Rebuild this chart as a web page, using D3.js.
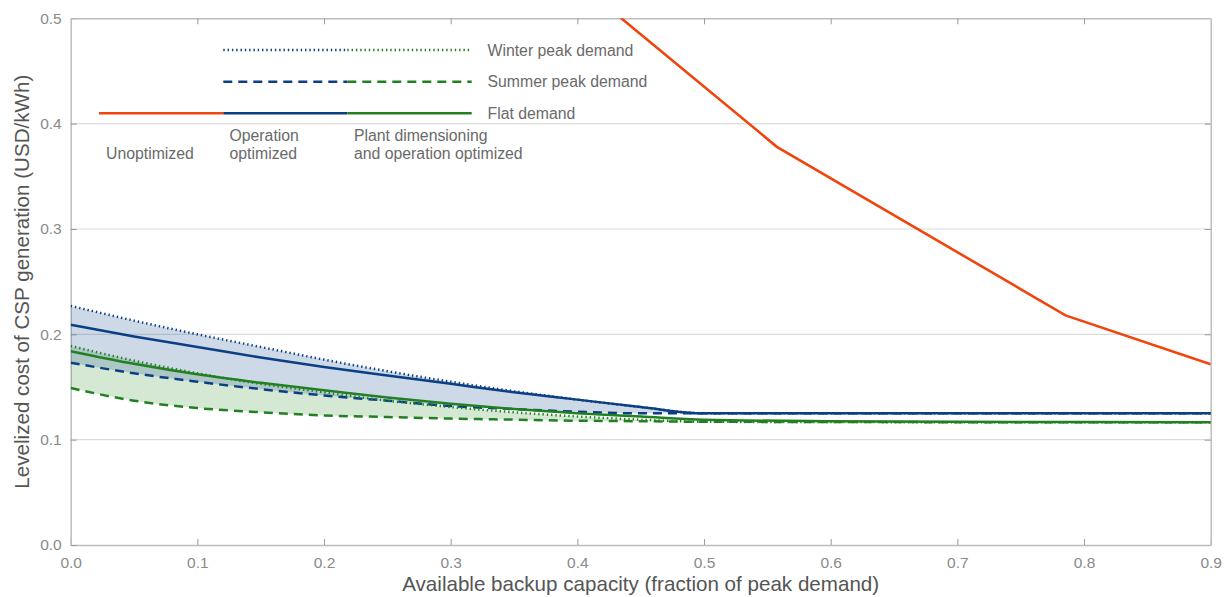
<!DOCTYPE html>
<html>
<head>
<meta charset="utf-8">
<script src="https://cdn.jsdelivr.net/npm/d3@7"></script>
<style>
  html, body { margin: 0; padding: 0; background: #fff; }
  svg { display: block; font-family: "Liberation Sans", Arial, Helvetica, sans-serif; }
</style>
</head>
<body>
<svg id="chart" width="1231" height="597"></svg>
<script>
// ---- data ----
const xValues = [0, 0.05, 0.1, 0.15, 0.2, 0.25, 0.3, 0.35, 0.4, 0.45, 0.5, 0.6, 0.7, 0.8, 0.9];
const blueWinter  = [0.227, 0.213, 0.200, 0.188, 0.176, 0.165, 0.155, 0.146, 0.138, 0.131, 0.125, 0.125, 0.125, 0.125, 0.125];
const blueFlat    = [0.209, 0.198, 0.188, 0.178, 0.169, 0.161, 0.153, 0.145, 0.138, 0.131, 0.125, 0.125, 0.125, 0.125, 0.125];
const blueSummer  = [0.173, 0.163, 0.155, 0.148, 0.142, 0.137, 0.132, 0.129, 0.1265, 0.125, 0.125, 0.125, 0.125, 0.125, 0.125];
const greenWinter = [0.189, 0.175, 0.163, 0.153, 0.145, 0.137, 0.131, 0.126, 0.122, 0.119, 0.117, 0.1167, 0.1166, 0.1165, 0.1165];
const greenFlat   = [0.184, 0.172, 0.162, 0.154, 0.147, 0.140, 0.134, 0.129, 0.125, 0.122, 0.119, 0.1175, 0.117, 0.1167, 0.1166];
const greenSummer = [0.149, 0.137, 0.130, 0.126, 0.123, 0.1215, 0.120, 0.119, 0.118, 0.1175, 0.117, 0.1168, 0.1166, 0.1165, 0.1165];
const unoptX = [0.33, 0.5575, 0.7854, 0.9];
const unoptY = [0.604, 0.378, 0.218, 0.1715];
const xTicks = [0, 0.1, 0.2, 0.3, 0.4, 0.5, 0.6, 0.7, 0.8, 0.9];
const yTicks = [0, 0.1, 0.2, 0.3, 0.4, 0.5];
const legendRows = ["Winter peak demand", "Summer peak demand", "Flat demand"];
const legendGroups = [["Unoptimized"], ["Operation", "optimized"], ["Plant dimensioning", "and operation optimized"]];

// ---- layout ----
const W = 1231, H = 597;
const m = { left: 70.7, right: 20.3, top: 18.3, bottom: 52 };
const iw = W - m.left - m.right, ih = H - m.top - m.bottom;
const BLUE = "#0b3f84", GREEN = "#228022", ORANGE = "#f0450c";
const DOT = "1.4,2.9", DASH = "9,6";

const svg = d3.select("#chart");
const g = svg.append("g").attr("transform", `translate(${m.left},${m.top})`);
const x = d3.scaleLinear().domain([0, 0.9]).range([0, iw]);
const y = d3.scaleLinear().domain([0, 0.5]).range([ih, 0]);

svg.append("defs").append("clipPath").attr("id", "clip")
  .append("rect").attr("width", iw).attr("height", ih);

// grid
g.append("g").selectAll("line").data(yTicks.slice(1, -1)).join("line")
  .attr("x1", 0).attr("x2", iw).attr("y1", d => y(d)).attr("y2", d => y(d))
  .attr("stroke", "#dcdcdc").attr("stroke-width", 1.2);

// axes
const fmt = d3.format(".1f");
const xa = g.append("g").attr("transform", `translate(0,${ih})`)
  .call(d3.axisBottom(x).tickValues(xTicks).tickFormat(fmt).tickSizeInner(-6).tickSizeOuter(0).tickPadding(12));
const ya = g.append("g")
  .call(d3.axisLeft(y).tickValues(yTicks).tickFormat(fmt).tickSizeInner(-6).tickSizeOuter(0).tickPadding(9));
const xt = g.append("g")
  .call(d3.axisTop(x).tickValues(xTicks.slice(1, -1)).tickFormat("").tickSizeInner(-6).tickSizeOuter(0));
const yr = g.append("g").attr("transform", `translate(${iw},0)`)
  .call(d3.axisRight(y).tickValues(yTicks.slice(1, -1)).tickFormat("").tickSizeInner(-6).tickSizeOuter(0));
[xa, ya, xt, yr].forEach(a => {
  a.select(".domain").attr("stroke", "#bdbdbd").attr("stroke-width", 1.5);
  a.selectAll(".tick line").attr("stroke", "#9a9a9a").attr("stroke-width", 1);
  a.selectAll(".tick text").attr("fill", "#8a8a8a").attr("font-size", 15.5);
});
xa.selectAll(".tick text").attr("dy", "0.71em");

// series
const pts = arr => arr.map((v, i) => [xValues[i], v]);
const line = d3.line().x(d => x(d[0])).y(d => y(d[1])).curve(d3.curveMonotoneX);
const area = (top, bot) => d3.area().x((d, i) => x(xValues[i])).y0((d, i) => y(bot[i])).y1((d, i) => y(top[i])).curve(d3.curveMonotoneX)(top);

const plot = g.append("g").attr("clip-path", "url(#clip)");
plot.append("path").attr("d", area(greenWinter, greenSummer)).attr("fill", "rgb(40,140,40)").attr("fill-opacity", 0.2);
plot.append("path").attr("d", area(blueWinter, blueSummer)).attr("fill", "rgb(30,80,150)").attr("fill-opacity", 0.22);

const series = [
  { d: blueSummer, c: BLUE, dash: DASH },
  { d: blueWinter, c: BLUE, dash: DOT },
  { d: blueFlat, c: BLUE, dash: null },
  { d: greenSummer, c: GREEN, dash: DASH },
  { d: greenWinter, c: GREEN, dash: DOT },
  { d: greenFlat, c: GREEN, dash: null }
];
series.forEach(s => {
  plot.append("path").attr("d", line(pts(s.d))).attr("fill", "none")
    .attr("stroke", s.c).attr("stroke-width", 2.5)
    .attr("stroke-dasharray", s.dash);
});
plot.append("path")
  .attr("d", d3.line().x(d => x(d[0])).y(d => y(d[1]))(unoptX.map((v, i) => [v, unoptY[i]])))
  .attr("fill", "none").attr("stroke", ORANGE).attr("stroke-width", 2.6);

// legend
const L = svg.append("g");
const rowY = [50, 81.7, 113.3];
const segX = [99, 223.3, 347.3, 471.7];
const dashes = [DOT, DASH, null];
rowY.forEach((ry, r) => {
  const cols = r === 2 ? [ORANGE, BLUE, GREEN] : [null, BLUE, GREEN];
  cols.forEach((c, k) => {
    if (!c) return;
    L.append("line").attr("x1", segX[k]).attr("x2", segX[k + 1]).attr("y1", ry).attr("y2", ry)
      .attr("stroke", c).attr("stroke-width", 2.6).attr("stroke-dasharray", dashes[r]);
  });
  L.append("text").attr("x", 487.5).attr("y", ry + 5.6).attr("font-size", 15.8).attr("fill", "#6a6a6a").text(legendRows[r]);
});
const grpX = [106, 229.5, 354];
legendGroups.forEach((lines, k) => {
  const base = 158.5 - (lines.length - 1) * 17.5;
  lines.forEach((t, j) => {
    L.append("text").attr("x", grpX[k]).attr("y", base + j * 17.5).attr("font-size", 15.8).attr("fill", "#6a6a6a").text(t);
  });
});

// axis titles
svg.append("text").attr("x", m.left + iw / 2).attr("y", 591).attr("text-anchor", "middle")
  .attr("font-size", 20.6).attr("fill", "#555").text("Available backup capacity (fraction of peak demand)");
svg.append("text").attr("transform", `translate(29,${m.top + ih / 2}) rotate(-90)`).attr("text-anchor", "middle")
  .attr("font-size", 20.6).attr("fill", "#555").text("Levelized cost of CSP generation (USD/kWh)");
</script>
</body>
</html>
